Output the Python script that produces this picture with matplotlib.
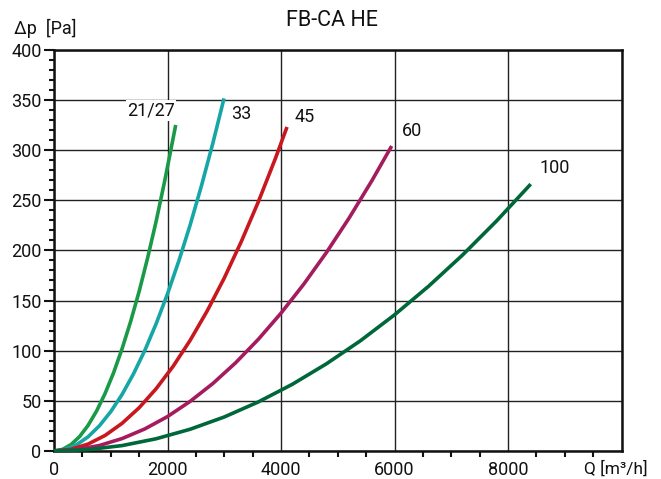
import matplotlib
matplotlib.use("Agg")
import matplotlib.pyplot as plt
from matplotlib.ticker import MultipleLocator

plt.rcParams['font.family'] = ['Roboto', 'DejaVu Sans']

# Data (Q in m3/h, dp in Pa)
q_2127 = [0, 150, 300, 450, 600, 750, 900, 1050, 1200, 1350, 1500, 1650, 1800, 1950, 2100, 2145]
dp_2127 = [0, 1.6, 6.4, 14.3, 25.5, 39.8, 57.3, 78, 102, 129, 159, 192.5, 229, 269, 312, 325]

q_33 = [0, 200, 400, 600, 800, 1000, 1200, 1400, 1600, 1800, 2000, 2200, 2400, 2600, 2800, 2996]
dp_33 = [0, 1.6, 6.3, 14.1, 25.1, 39.2, 56.4, 76.8, 100.2, 126.9, 156.6, 189.5, 225.5, 264.7, 307, 351.5]

q_45 = [0, 300, 600, 900, 1200, 1500, 1800, 2100, 2400, 2700, 3000, 3300, 3600, 3900, 4106]
dp_45 = [0, 1.7, 6.9, 15.5, 27.6, 43.1, 62.1, 84.5, 110.4, 139.7, 172.4, 208.7, 248.3, 291.4, 323]

q_60 = [0, 400, 800, 1200, 1600, 2000, 2400, 2800, 3200, 3600, 4000, 4400, 4800, 5200, 5600, 5950]
dp_60 = [0, 1.4, 5.5, 12.4, 22, 34.3, 49.5, 67.3, 87.9, 111.3, 137.4, 166.2, 197.8, 232.2, 269.3, 304]

q_100 = [0, 600, 1200, 1800, 2400, 3000, 3600, 4200, 4800, 5400, 6000, 6600, 7200, 7800, 8400]
dp_100 = [0, 1.4, 5.4, 12.2, 21.7, 33.9, 48.9, 66.5, 86.9, 109.9, 135.7, 164.2, 195.4, 229.4, 266]

labels = ["21/27", "33", "45", "60", "100"]
colors = ["#1a9a48", "#17a6a6", "#c8171e", "#a51c5e", "#00673a"]
label_pos = [(1710, 339), (3300, 336), (4410, 333), (6300, 319), (8820, 282)]

x_ticks = [0, 2000, 4000, 6000, 8000, 10000]
x_ticklabels = ["0", "2000", "4000", "6000", "8000", ""]
y_ticks = [0, 50, 100, 150, 200, 250, 300, 350, 400]

fig = plt.figure(figsize=(6.61, 4.79), dpi=100)
ax = fig.add_axes([54/661, 28/479, (621.5-54)/661, (451-49.7)/479])

series = [(q_2127, dp_2127), (q_33, dp_33), (q_45, dp_45), (q_60, dp_60), (q_100, dp_100)]
for (q, dp), c in zip(series, colors):
    ax.plot(q, dp, color=c, lw=2.6, solid_capstyle='butt', solid_joinstyle='round',
            clip_on=False, zorder=3)

for lab, (x, y) in zip(labels, label_pos):
    bbox = dict(facecolor='white', edgecolor='none', pad=1) if lab == "21/27" else None
    ax.text(x, y, lab, ha='center', va='center', fontsize=13, color='#111111',
            bbox=bbox, zorder=4)

ax.set_xlim(0, 10000)
ax.set_ylim(0, 400)
ax.set_xticks(x_ticks)
ax.set_xticklabels(x_ticklabels)
ax.set_yticks(y_ticks)
ax.xaxis.set_minor_locator(MultipleLocator(500))
ax.yaxis.set_minor_locator(MultipleLocator(10))

ax.grid(True, which='major', color='#222222', lw=1.0, zorder=1)
ax.set_axisbelow(True)

for s in ax.spines.values():
    s.set_linewidth(1.8)
    s.set_color('#111111')

ax.tick_params(axis='x', which='major', length=0, pad=7, labelsize=13, colors='#111111')
ax.tick_params(axis='x', which='minor', length=4, width=1.5, direction='out', colors='#111111')
ax.tick_params(axis='y', which='major', length=7, width=1.5, pad=2, labelsize=13, colors='#111111')
ax.tick_params(axis='y', which='minor', length=3.5, width=1.5, colors='#111111')

fig.text(0.502, 1 - 20/479, "FB-CA HE", ha='center', va='center', fontsize=15.5, color='#111111')
fig.text(14/661, 1 - 28/479, "Δp  [Pa]", ha='left', va='center', fontsize=13, color='#111111')
fig.text(648/661, 1 - 469/479, "Q [m³/h]", ha='right', va='center', fontsize=12.5, color='#111111')

fig.savefig("out.png", dpi=100)
